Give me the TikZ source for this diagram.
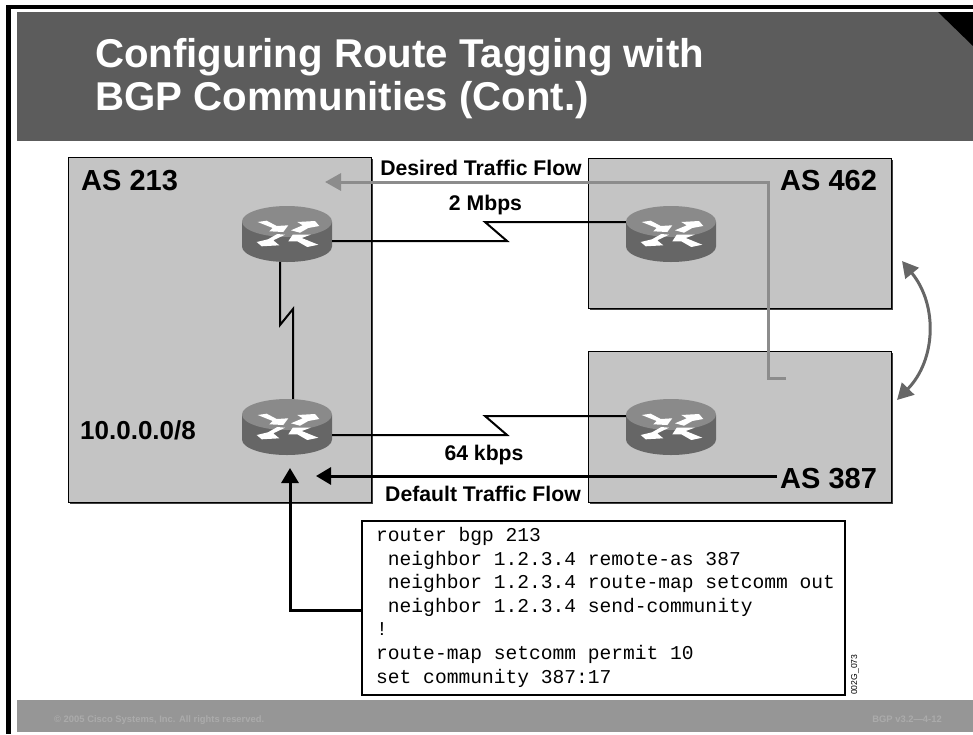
\documentclass[tikz,border=0pt]{standalone}
\usepackage{fontspec}
\setmainfont{Liberation Sans}
\setmonofont{Liberation Mono}
\usetikzlibrary{shadows,arrows.meta}
\definecolor{band}{HTML}{5C5C5C}
\definecolor{foot}{HTML}{969696}
\definecolor{footy}{HTML}{ABABAB}
\definecolor{asgray}{HTML}{C4C4C4}
\definecolor{flow}{HTML}{8C8C8C}
\definecolor{swap}{HTML}{666666}
\definecolor{rtop}{HTML}{8A8A8A}
\definecolor{rside}{HTML}{666666}
\tikzset{
  asbox/.style={draw=black,line width=1pt,fill=asgray,inner sep=0,
    drop shadow={shadow xshift=1.5pt,shadow yshift=-1.5pt,fill=black!75,opacity=1}},
  aslabel/.style={font=\bfseries\fontsize{29}{29}\selectfont,inner sep=0,anchor=base west},
  flowlabel/.style={font=\bfseries\fontsize{21.2}{21.2}\selectfont,inner sep=0,anchor=base},
  router/.style={inner sep=0,minimum width=90pt,minimum height=56pt,
    path picture={
      \begin{scope}[shift={(path picture bounding box.center)},x=1pt,y=1pt]
      \fill[rside] (-45,12) -- (-45,-12.5) arc[x radius=45,y radius=15.5,start angle=180,end angle=360] -- (45,12) -- cycle;
      \fill[rtop] (0,12.5) ellipse[x radius=45,y radius=15.5];
      \begin{scope}[shift={(0,12)}]
      \fill[white] (-29.3,12) -- (-20.3,13.3) -- (-10.3,8) -- (1.3,8.7) -- (-3.7,2) -- (-17.7,2.7) -- (-14.3,6) -- cycle;
      \fill[white] (4,3.7) -- (15.7,8.7) -- (10.3,12) -- (28,13) -- (32.3,8) -- (21.3,6) -- (13,1.3) -- cycle;
      \fill[white] (-9.7,0) -- (-2,-0.7) -- (-13.7,-6.3) -- (-7.7,-11.3) -- (-25.3,-12.3) -- (-30.3,-8) -- (-19,-5.3) -- cycle;
      \fill[white] (5.7,-0.7) -- (23.7,-0.7) -- (14.7,-4) -- (31.3,-10.7) -- (20.3,-13) -- (10.3,-7.3) -- (1.3,-7.3) -- cycle;
      \end{scope}
      \end{scope}}},
  wan/.style={draw=black,line width=2pt},
  thickarrow/.style={draw=black,line width=3pt,-{Triangle[length=15pt,width=17pt]}},
  codeline/.style={font=\ttfamily\fontsize{19.6}{19.6}\selectfont,inner sep=0,anchor=base west}
}
\begin{document}
\begin{tikzpicture}[x=1pt,y=-1pt]
\useasboundingbox (0,0) rectangle (973,734);
% frame and bands
\fill[black] (6,5) rectangle (973,9);
\fill[black] (6,5) rectangle (11,734);
\fill[band] (17,12) rectangle (973,141);
\fill[black] (938,12) -- (973,12) -- (973,46) -- cycle;
\fill[foot] (17,700) rectangle (973,732);
\node[font=\bfseries\fontsize{40.2}{43}\selectfont,text=white,align=left,anchor=base west,inner sep=0] (title) at (95,110) {Configuring Route Tagging with\\BGP Communities (Cont.)};
\node[font=\bfseries\fontsize{9.4}{9.4}\selectfont,text=footy,anchor=base west,inner sep=0] (copy) at (54,722) {© 2005 Cisco Systems, Inc. All rights reserved.};
\node[font=\bfseries\fontsize{9.4}{9.4}\selectfont,text=footy,anchor=base east,inner sep=0] (ver) at (942,722) {BGP v3.2—4-12};
% AS boxes
\node[asbox,minimum width=303pt,minimum height=345pt] (as213) at (219.5,329.5) {};
\node[asbox,minimum width=303pt,minimum height=150pt] (as462) at (739.5,233) {};
\node[asbox,minimum width=303pt,minimum height=151pt] (as387) at (739.5,426.5) {};
\node[aslabel] (l213) at (81,190) {AS 213};
\node[aslabel] (l462) at (780,190) {AS 462};
\node[aslabel] (l387) at (780,488) {AS 387};
\node[font=\bfseries\fontsize{26}{26}\selectfont,inner sep=0,anchor=base west] (net) at (80,439) {10.0.0.0/8};
% routers
\node[router] (r1) at (287,234) {};
\node[router] (r2) at (671,234) {};
\node[router] (r3) at (287,427) {};
\node[router] (r4) at (671,427) {};
% links
\draw[wan] ([yshift=-7pt]r1.east) -- (507,241) -- (485,222) -- ([yshift=12pt]r2.west);
\draw[wan] ([yshift=-8pt]r3.east) -- (507,435) -- (485,416) -- ([yshift=11pt]r4.west);
\draw[wan] ([xshift=-7pt]r1.south) -- (280,325) -- (293,309) -- ([xshift=6pt]r3.north);
% flows
\coordinate (gstart) at (786,378);
\draw[draw=flow,line width=3pt,-{Triangle[length=16pt,width=17pt]}] (gstart) -- (768,378) -- (768,182) -- (325,182);
\coordinate (bstart) at (777,476);
\draw[thickarrow] (bstart) -- (316,476);
% code
\node[draw=black,line width=1.2pt,fill=white,minimum width=483pt,minimum height=174pt,inner sep=0] (code) at (603.5,608) {};
\draw[thickarrow] (code.west |- 0,610) -- (290,610) -- (290,468);
\foreach \y/\t in {541/{router bgp 213},565/{\ neighbor 1.2.3.4 remote-as 387},588/{\ neighbor 1.2.3.4 route-map setcomm out},612/{\ neighbor 1.2.3.4 send-community},635/{!},659/{route-map setcomm permit 10},683/{set community 387:17}}{
  \node[codeline] at (376,\y) {\t};
}
\node[font=\fontsize{8.6}{8.6}\selectfont,rotate=90,inner sep=0,anchor=base west] (tag) at (857,695) {002G\_073};
% labels
\node[flowlabel] (desired) at (481,175) {Desired Traffic Flow};
\node[flowlabel] (default) at (483,501) {Default Traffic Flow};
\node[flowlabel] (m2) at (485.5,210) {2 Mbps};
\node[flowlabel] (k64) at (484,460) {64 kbps};
% swap arrow
\coordinate (sa) at (902,261);
\coordinate (sb) at (897,400);
\draw[draw=swap,line width=3pt,{Triangle[length=16pt,width=17pt]}-{Triangle[length=16pt,width=17pt]}] (sa) .. controls (938,305) and (936,360) .. (sb);
\end{tikzpicture}
\end{document}
